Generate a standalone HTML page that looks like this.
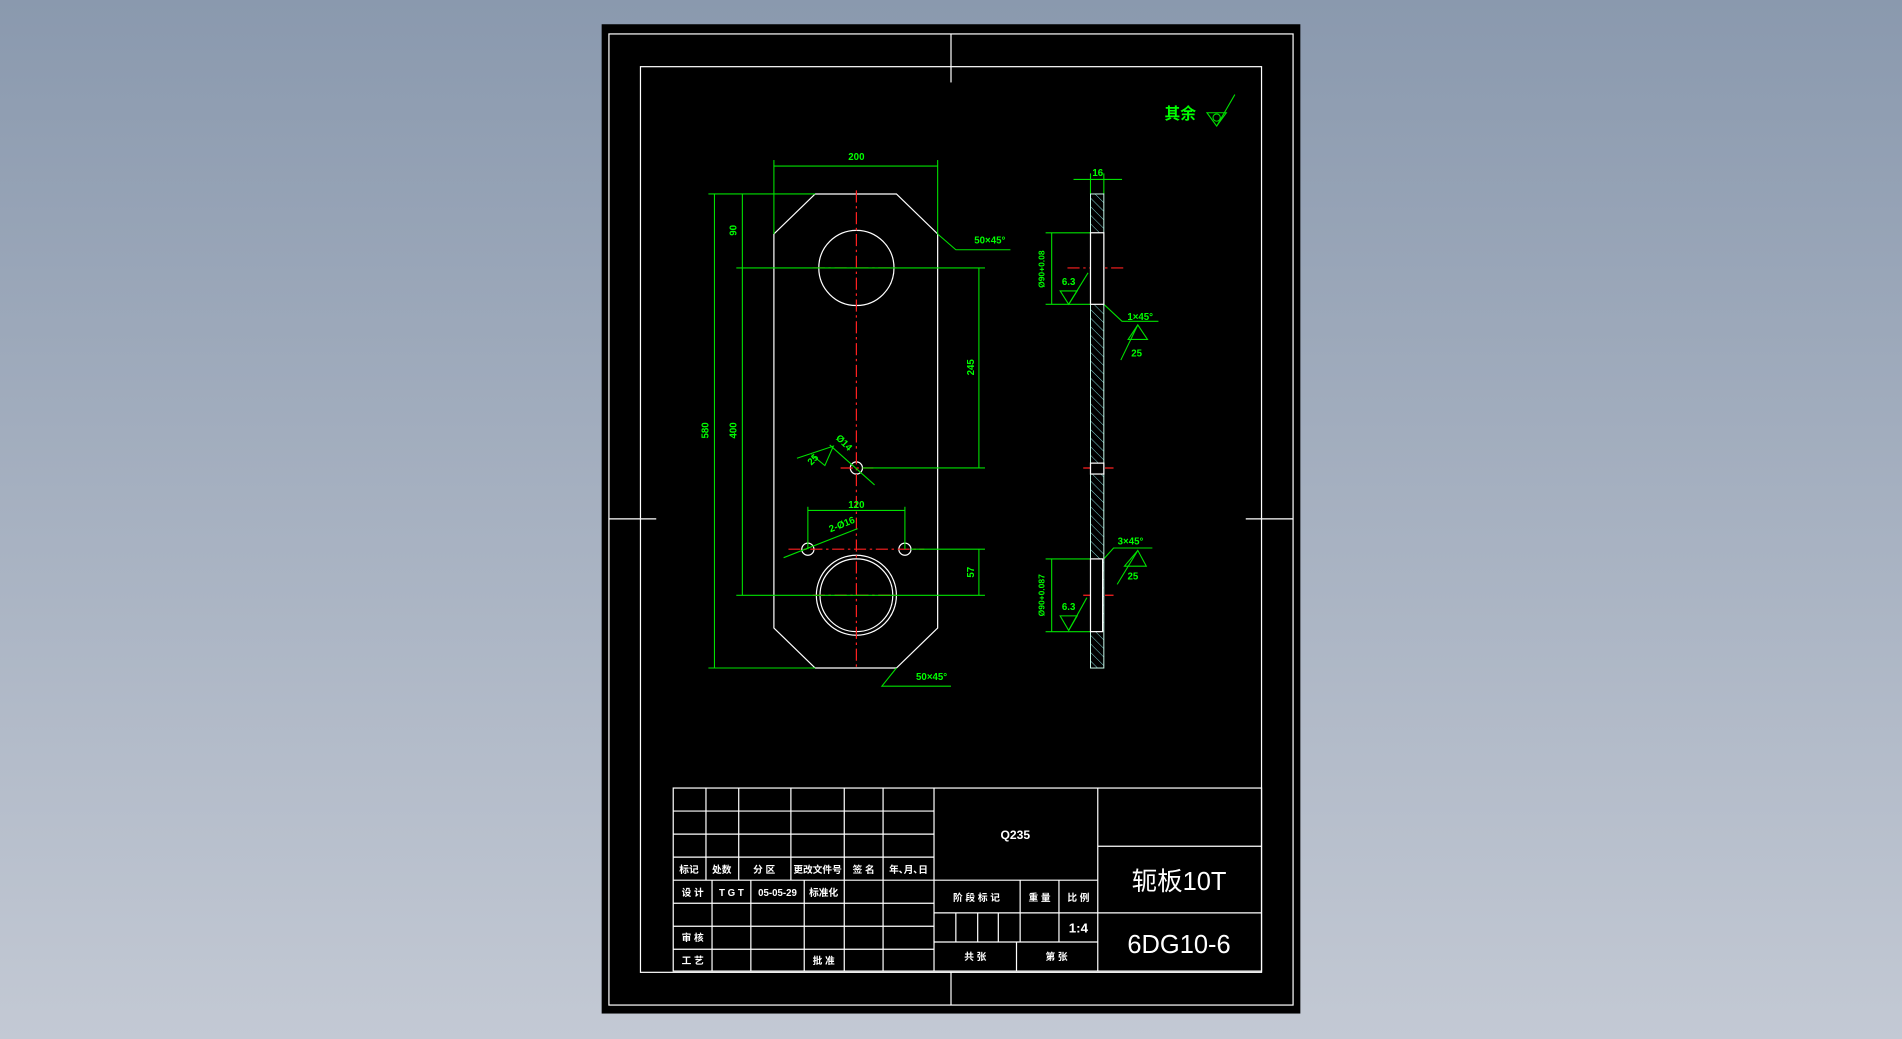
<!DOCTYPE html>
<html><head><meta charset="utf-8"><style>
html,body{margin:0;padding:0;width:1902px;height:1039px;overflow:hidden;background:linear-gradient(#8a99ae,#c3c9d4);}
svg{display:block}
text{font-family:"Liberation Sans","Noto Sans CJK SC",sans-serif;}
.g{fill:#00ff00;font-size:8px;font-weight:bold}
.w{fill:#fff;font-size:8px;font-weight:bold}
</style></head><body>
<svg width="1902" height="1039" viewBox="0 0 1568 857" preserveAspectRatio="none" xmlns="http://www.w3.org/2000/svg">
<defs>
<pattern id="h" patternUnits="userSpaceOnUse" width="5" height="5" patternTransform="rotate(-45)">
<line x1="0" y1="0" x2="0" y2="5" stroke="#7fd4d4" stroke-width="0.8"/></pattern>
</defs>
<rect x="496" y="20" width="576" height="816" fill="#000"/>
<g stroke="#fff" stroke-width="1" fill="none">
<rect x="502" y="28" width="564" height="801"/>
<rect x="528" y="55" width="512" height="747"/>
<line x1="784" y1="28" x2="784" y2="68"/><line x1="784" y1="802" x2="784" y2="829"/>
<line x1="502" y1="428" x2="541" y2="428"/><line x1="1027" y1="428" x2="1066" y2="428"/>
<!-- plate -->
<polygon points="672,160 739,160 773,193 773,518 739,551 672,551 638,518 638,193"/>
<circle cx="706" cy="221" r="31"/>
<circle cx="706" cy="491" r="33"/><circle cx="706" cy="491" r="30"/>
<circle cx="706" cy="386" r="5"/><circle cx="666" cy="453" r="5"/><circle cx="746" cy="453" r="5"/>
</g>
<!-- centerlines -->
<g stroke="#ff2020" stroke-width="1" stroke-dasharray="10,3,2,3" fill="none">
<line x1="706" y1="157" x2="706" y2="553"/>
<line x1="670" y1="221" x2="742" y2="221"/>
<line x1="670" y1="491" x2="742" y2="491"/>
<line x1="693" y1="386" x2="720" y2="386"/>
<line x1="650" y1="453" x2="762" y2="453"/>
<line x1="880" y1="221" x2="928" y2="221"/>
<line x1="893" y1="386" x2="918" y2="386"/>
<line x1="893" y1="491" x2="918" y2="491"/>
</g>
<!-- dims -->
<g stroke="#00e000" stroke-width="0.9" fill="none">
<line x1="638" y1="132" x2="638" y2="193"/><line x1="773" y1="132" x2="773" y2="193"/>
<line x1="638" y1="137" x2="773" y2="137"/>
<line x1="584" y1="160" x2="672" y2="160"/><line x1="584" y1="551" x2="672" y2="551"/>
<line x1="589" y1="160" x2="589" y2="551"/>
<line x1="612" y1="160" x2="612" y2="491"/>
<line x1="607" y1="221" x2="812" y2="221"/><line x1="607" y1="491" x2="812" y2="491"/>
<line x1="711" y1="386" x2="812" y2="386"/><line x1="751" y1="453" x2="812" y2="453"/>
<line x1="807" y1="221" x2="807" y2="386"/><line x1="807" y1="453" x2="807" y2="491"/>
<line x1="666" y1="418" x2="666" y2="453"/><line x1="746" y1="418" x2="746" y2="453"/>
<line x1="666" y1="421" x2="746" y2="421"/>
<polyline points="773,193 788,206 833,206"/>
<polyline points="739,551 727,566 784,566"/>
<line x1="684" y1="367" x2="721" y2="400"/>
<polyline points="657,378 687,368 680,384 669,375"/>
<line x1="646" y1="460" x2="707" y2="436"/>
<!-- side dims -->
<line x1="885" y1="148" x2="925" y2="148"/>
<line x1="899" y1="143" x2="899" y2="160"/><line x1="910" y1="143" x2="910" y2="160"/>
<line x1="862" y1="192" x2="899" y2="192"/><line x1="862" y1="251" x2="899" y2="251"/>
<line x1="867" y1="192" x2="867" y2="251"/>
<polygon points="874,240 888,240 881,251"/><line x1="881" y1="251" x2="897" y2="225"/>
<polyline points="910,251 925,265 955,265"/>
<polygon points="930,280 946,280 938,268"/><line x1="924" y1="297" x2="938" y2="268"/>
<line x1="862" y1="461" x2="899" y2="461"/><line x1="862" y1="521" x2="899" y2="521"/>
<line x1="867" y1="461" x2="867" y2="521"/>
<polygon points="874,508 888,508 881,520"/><line x1="881" y1="520" x2="896" y2="493"/>
<polyline points="910,461 918,452 950,452"/>
<polygon points="927,467 945,467 938,454"/><line x1="921" y1="482" x2="938" y2="454"/>
<!-- 其余 symbol -->
<polygon points="995,93 1011,93 1003,104"/><circle cx="1003" cy="97" r="3"/>
<line x1="1003" y1="104" x2="1018" y2="78"/>
</g>
<!-- side view -->
<rect x="899" y="160" width="11" height="391" fill="url(#h)" stroke="#cfe" stroke-width="0.8"/>
<g fill="#000" stroke="#fff" stroke-width="1">
<rect x="899" y="192" width="11" height="59"/>
<rect x="899" y="382" width="11" height="9"/>
<rect x="899" y="461" width="10" height="60"/>
</g>
<!-- green texts -->
<g class="g" text-anchor="middle">
<text x="706" y="132">200</text>
<text x="905" y="145">16</text>
<text transform="translate(584,355) rotate(-90)">580</text>
<text transform="translate(607,355) rotate(-90)">400</text>
<text transform="translate(607,190) rotate(-90)">90</text>
<text transform="translate(803,303) rotate(-90)">245</text>
<text transform="translate(803,472) rotate(-90)">57</text>
<text x="706" y="419">120</text>
<text x="816" y="201">50×45°</text>
<text x="768" y="561">50×45°</text>
<text transform="translate(694,367) rotate(45)">Ø14</text>
<text transform="translate(672,381) rotate(-45)">25</text>
<text transform="translate(695,435) rotate(-22)">2-Ø16</text>
<text x="881" y="235">6.3</text>
<text x="881" y="503">6.3</text>
<text x="940" y="264">1×45°</text>
<text x="937" y="294">25</text>
<text x="932" y="449">3×45°</text>
<text x="934" y="478">25</text>
<text transform="translate(861,222) rotate(-90)" style="font-size:7px">Ø90+0.08</text>
<text transform="translate(861,491) rotate(-90)" style="font-size:7px">Ø90+0.087</text>
<text x="973" y="98" style="font-size:13px">其余</text>
</g>
<!-- title block -->
<g stroke="#fff" stroke-width="1" fill="none">
<rect x="555" y="650" width="485" height="151"/>
<line x1="770" y1="650" x2="770" y2="801"/><line x1="905" y1="650" x2="905" y2="801"/>
<line x1="555" y1="669" x2="770" y2="669"/><line x1="555" y1="688" x2="770" y2="688"/>
<line x1="555" y1="707" x2="770" y2="707"/><line x1="555" y1="726" x2="770" y2="726"/>
<line x1="555" y1="745" x2="770" y2="745"/><line x1="555" y1="764" x2="770" y2="764"/>
<line x1="555" y1="783" x2="770" y2="783"/>
<line x1="582" y1="650" x2="582" y2="726"/><line x1="609" y1="650" x2="609" y2="726"/>
<line x1="652" y1="650" x2="652" y2="726"/><line x1="696" y1="650" x2="696" y2="801"/>
<line x1="728" y1="650" x2="728" y2="801"/>
<line x1="587" y1="726" x2="587" y2="801"/><line x1="619" y1="726" x2="619" y2="801"/>
<line x1="663" y1="726" x2="663" y2="801"/>
<line x1="770" y1="726" x2="905" y2="726"/><line x1="770" y1="753" x2="905" y2="753"/>
<line x1="770" y1="777" x2="905" y2="777"/>
<line x1="841" y1="726" x2="841" y2="777"/><line x1="873" y1="726" x2="873" y2="777"/>
<line x1="788" y1="753" x2="788" y2="777"/><line x1="806" y1="753" x2="806" y2="777"/>
<line x1="823" y1="753" x2="823" y2="777"/>
<line x1="838" y1="777" x2="838" y2="801"/>
<line x1="905" y1="698" x2="1040" y2="698"/><line x1="905" y1="753" x2="1040" y2="753"/>
</g>
<g class="w" text-anchor="middle">
<text x="568" y="720">标记</text><text x="595" y="720">处数</text><text x="630" y="720">分 区</text>
<text x="674" y="720">更改文件号</text><text x="712" y="720">签 名</text><text x="749" y="720">年､月､日</text>
<text x="571" y="739">设 计</text><text x="603" y="739">T G T</text><text x="641" y="739">05-05-29</text>
<text x="679" y="739">标准化</text>
<text x="571" y="776">审 核</text><text x="571" y="795">工 艺</text><text x="679" y="795">批 准</text>
<text x="837" y="692" style="font-size:10px">Q235</text>
<text x="805" y="743">阶 段 标 记</text><text x="857" y="743">重 量</text><text x="889" y="743">比 例</text>
<text x="889" y="769" style="font-size:11px">1:4</text>
<text x="804" y="792">共 张</text><text x="871" y="792">第 张</text>
<text x="972" y="734" style="font-size:21px;font-weight:normal">轭板10T</text>
<text x="972" y="786" style="font-size:21px;font-weight:normal">6DG10-6</text>
</g>
</svg>
</body></html>
